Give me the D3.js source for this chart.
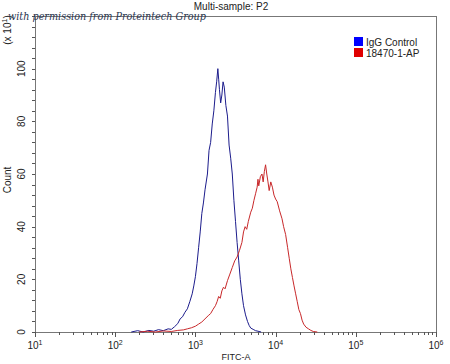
<!DOCTYPE html>
<html>
<head>
<script src="https://d3js.org/d3.v7.min.js"></script>
<style>
  body { margin: 0; background: #fff; }
  svg { display: block; }
  text { font-family: "Liberation Sans", Arial, sans-serif; fill: #222; }
</style>
</head>
<body>
<svg width="450" height="364"></svg>
<script>
// IgG Control histogram: log10(FITC-A) and count (x10)
const iggLog = [2.20,2.28,2.35,2.42,2.48,2.54,2.60,2.66,2.70,2.74,2.78,2.81,2.84,2.87,2.90,2.93,2.96,2.98,3.00,3.02,3.04,3.06,3.08,3.10,3.12,3.15,3.17,3.19,3.21,3.23,3.25,3.265,3.28,3.29,3.30,3.315,3.33,3.345,3.36,3.38,3.40,3.42,3.44,3.46,3.48,3.50,3.52,3.54,3.56,3.58,3.60,3.625,3.65,3.67,3.69,3.72,3.75,3.78,3.82];
const iggCount = [0,0.5,0,0.6,0.3,0.9,0.5,1.2,1.0,2.0,3.2,5.0,5.8,7.5,8.8,11.5,14.5,17.5,21,26,32,38,45,49,54,60,69,72,79,84,91,95,100,96,92,87,90,95,93,86,82,71,66,60,50,42,34,27,20,14.5,10,6.5,4,2.5,1.5,1.0,0.5,0.3,0];

// 18470-1-AP histogram
const apLog = [2.30,2.40,2.50,2.60,2.70,2.78,2.85,2.90,2.95,3.00,3.04,3.08,3.12,3.16,3.19,3.22,3.25,3.27,3.29,3.31,3.33,3.35,3.37,3.40,3.43,3.46,3.49,3.52,3.55,3.58,3.60,3.62,3.64,3.66,3.69,3.71,3.73,3.75,3.77,3.78,3.79,3.81,3.83,3.845,3.86,3.875,3.89,3.905,3.92,3.94,3.96,3.98,4.00,4.02,4.05,4.08,4.10,4.125,4.15,4.17,4.19,4.21,4.23,4.25,4.27,4.29,4.31,4.33,4.35,4.38,4.41,4.44,4.47,4.52];
const apCount = [0,0.3,0,0.4,0.2,0.6,0.8,1.2,1.6,2.2,3.0,3.8,5.0,6.2,7.0,8.6,10,11.5,13.5,12.8,15.6,17,16.4,19.5,22,24.5,27,28.5,31,34,38,40,39,42,45.5,47,50,52.5,55,58,55.5,59,60,57,61,63.5,60,57,53.7,57,55,52,50.5,49.5,46,43,40,37,32,28,24,20.7,17.5,14.5,11.5,8.5,7,4.5,3,1.8,1.2,0.6,0.2,0];

const series = [
  { name: "IgG Control", line: "#1c1c8c", key: "#0000ff", xs: iggLog, ys: iggCount },
  { name: "18470-1-AP", line: "#c8282a", key: "#e00000", xs: apLog, ys: apCount }
];
const yMajor = [0, 20, 40, 60, 80, 100];
const decades = [1, 2, 3, 4, 5, 6];

const svg = d3.select("svg");
const pLeft = 35, pRight = 436, pTop = 16, pBottom = 332;

const x = d3.scaleLog().domain([10, 1e6]).range([pLeft, pRight]);
const y = d3.scaleLinear().domain([0, 120]).range([pBottom, pTop]);

// title
svg.append("text").attr("x", 231).attr("y", 10)
  .attr("text-anchor", "middle").style("font-size", "10px")
  .text("Multi-sample: P2");

// frame
svg.append("rect").attr("x", pLeft + 0.5).attr("y", pTop + 0.5)
  .attr("width", pRight - pLeft).attr("height", pBottom - pTop)
  .attr("fill", "none").attr("stroke", "#777").attr("stroke-width", 1);

// y ticks
const yTicks = d3.range(0, 121, 4);
svg.append("g").selectAll("line").data(yTicks).join("line")
  .attr("x1", pLeft - 3).attr("x2", pLeft)
  .attr("y1", d => Math.round(y(d)) + 0.5).attr("y2", d => Math.round(y(d)) + 0.5)
  .attr("stroke", "#555");
svg.append("g").selectAll("text").data(yMajor).join("text")
  .attr("transform", d => `translate(25,${y(d)}) rotate(-90)`)
  .attr("text-anchor", "middle").style("font-size", "10px")
  .text(d => d);

// x ticks
const minor = [];
decades.slice(0, -1).forEach(e => { for (let k = 2; k <= 9; k++) minor.push(k * 10 ** e); });
svg.append("g").selectAll("line").data(minor).join("line")
  .attr("x1", d => Math.round(x(d)) + 0.5).attr("x2", d => Math.round(x(d)) + 0.5)
  .attr("y1", pBottom).attr("y2", pBottom + 3).attr("stroke", "#555");
svg.append("g").selectAll("line").data(decades).join("line")
  .attr("x1", d => Math.round(x(10 ** d)) + 0.5).attr("x2", d => Math.round(x(10 ** d)) + 0.5)
  .attr("y1", pBottom).attr("y2", pBottom + 5).attr("stroke", "#555");
const xl = svg.append("g").selectAll("text").data(decades).join("text")
  .attr("x", d => x(10 ** d)).attr("y", 349)
  .attr("text-anchor", "middle").style("font-size", "10px");
xl.append("tspan").text("10");
xl.append("tspan").attr("dy", -4).style("font-size", "7px").text(d => d);

// axis titles
svg.append("text").attr("x", 236).attr("y", 360)
  .attr("text-anchor", "middle").style("font-size", "9px").text("FITC-A");
svg.append("text").attr("transform", "translate(11,180) rotate(-90)")
  .attr("text-anchor", "middle").style("font-size", "10px").text("Count");
const mult = svg.append("text").attr("transform", "translate(11,30) rotate(-90)")
  .attr("text-anchor", "middle").style("font-size", "10px");
mult.append("tspan").text("(x 10");
mult.append("tspan").attr("dy", -4).style("font-size", "7px").text("1");
mult.append("tspan").attr("dy", 4).text(")");

// histograms
const line = d3.line().x(d => x(10 ** d[0])).y(d => y(d[1]));
svg.append("g").selectAll("path").data(series).join("path")
  .attr("d", s => line(s.xs.map((v, i) => [v, s.ys[i]])))
  .attr("fill", "none").attr("stroke", s => s.line).attr("stroke-width", 1);

// legend
const lg = svg.append("g").selectAll("g").data(series).join("g")
  .attr("transform", (d, i) => `translate(354,${37 + i * 11})`);
lg.append("rect").attr("width", 9).attr("height", 9).attr("fill", d => d.key);
lg.append("text").attr("x", 12).attr("y", 8.5).style("font-size", "10px").text(d => d.name);

// watermark
svg.append("text").attr("x", 8).attr("y", 20)
  .attr("textLength", 198).attr("lengthAdjust", "spacingAndGlyphs")
  .style("font-family", "'DejaVu Serif', serif").style("font-style", "italic")
  .style("font-size", "11px").style("fill", "#2a3550")
  .text("with permission from Proteintech Group");
</script>
</body>
</html>
